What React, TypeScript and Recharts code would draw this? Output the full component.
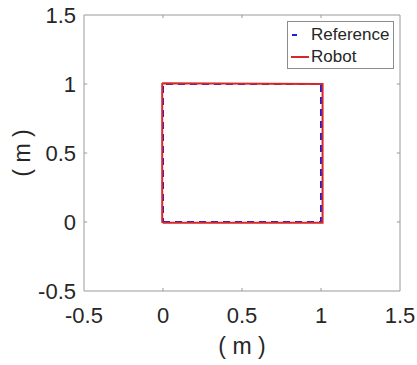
import React from 'react';
import { LineChart, Line, XAxis, YAxis, ReferenceArea, ReferenceLine, Legend } from 'recharts';

// trajectory data (metres)
const refX = [0, 1, 1, 0, 0];
const refY = [0, 0, 1, 1, 0];
const robotX = [0, 1.01, 1.01, 0.0, -0.005, -0.005, 0];
const robotY = [-0.005, -0.005, 1, 1.005, 1.0, 0, -0.005];
const xTicks = [-0.5, 0, 0.5, 1, 1.5];
const yTicks = [-0.5, 0, 0.5, 1, 1.5];

const refData = refX.map((x, i) => ({ x, y: refY[i] }));
const robotData = robotX.map((x, i) => ({ x, y: robotY[i] }));

const FONT = '"Liberation Sans", Arial, sans-serif';
const TEXT = '#262626';
const AXIS = '#9a9a9a';
const TICK_LEN_X = 0.02;
const TICK_LEN_Y = 0.022;

const LegendBox = () => (
  <div style={{ width: 107, height: 48, border: '1px solid #8c8c8c', background: '#fff', boxSizing: 'border-box', fontFamily: FONT, fontSize: 17, color: TEXT, position: 'relative' }}>
    <svg width={24} height={46} style={{ position: 'absolute', left: 0, top: 0 }}>
      <line x1={4} x2={9} y1={13} y2={13} stroke="#1f1fd6" strokeWidth={2} />
      <line x1={3} x2={21} y1={35} y2={35} stroke="#d62828" strokeWidth={2} />
    </svg>
    <div style={{ position: 'absolute', left: 23, top: 3, lineHeight: '20px' }}>Reference</div>
    <div style={{ position: 'absolute', left: 23, top: 25, lineHeight: '20px' }}>Robot</div>
  </div>
);

export default function App() {
  return (
    <div style={{ position: 'absolute', left: 0, top: 0, background: '#fff' }}>
      <LineChart width={417} height={365} margin={{ top: 15, right: 17, left: 0, bottom: 0 }}>
        <XAxis
          type="number"
          dataKey="x"
          domain={[-0.5, 1.5]}
          ticks={xTicks}
          allowDataOverflow
          height={74}
          tickSize={0}
          tickMargin={16}
          tickLine={false}
          axisLine={false}
          tick={{ fontSize: 22, fill: TEXT, fontFamily: FONT }}
          label={{
            content: (p: any) => {
              const vb = p.viewBox;
              return (
                <text x={vb.x + vb.width / 2} y={vb.y + 55} textAnchor="middle" dominantBaseline="central" fontSize={23} fill={TEXT} fontFamily={FONT}>
                  ( m )
                </text>
              );
            },
          }}
        />
        <YAxis
          type="number"
          dataKey="y"
          domain={[-0.5, 1.5]}
          ticks={yTicks}
          allowDataOverflow
          width={84}
          tickSize={0}
          tickMargin={8}
          tickLine={false}
          axisLine={false}
          tick={{ fontSize: 22, fill: TEXT, fontFamily: FONT }}
          label={{
            content: (p: any) => {
              const vb = p.viewBox;
              const cx = vb.x + 22;
              const cy = vb.y + vb.height / 2;
              return (
                <text x={cx} y={cy} transform={`rotate(-90 ${cx} ${cy})`} textAnchor="middle" dominantBaseline="central" fontSize={23} fill={TEXT} fontFamily={FONT}>
                  ( m )
                </text>
              );
            },
          }}
        />
        <ReferenceArea x1={-0.5} x2={1.5} y1={-0.5} y2={1.5} fill="none" stroke={AXIS} strokeWidth={1} />
        {xTicks.slice(1, -1).map((t) => (
          <ReferenceLine key={`xb${t}`} segment={[{ x: t, y: -0.5 }, { x: t, y: -0.5 + TICK_LEN_Y }]} stroke={AXIS} />
        ))}
        {xTicks.slice(1, -1).map((t) => (
          <ReferenceLine key={`xt${t}`} segment={[{ x: t, y: 1.5 }, { x: t, y: 1.5 - TICK_LEN_Y }]} stroke={AXIS} />
        ))}
        {yTicks.slice(1, -1).map((t) => (
          <ReferenceLine key={`yl${t}`} segment={[{ x: -0.5, y: t }, { x: -0.5 + TICK_LEN_X, y: t }]} stroke={AXIS} />
        ))}
        {yTicks.slice(1, -1).map((t) => (
          <ReferenceLine key={`yr${t}`} segment={[{ x: 1.5, y: t }, { x: 1.5 - TICK_LEN_X, y: t }]} stroke={AXIS} />
        ))}
        <Line data={refData} dataKey="y" type="linear" stroke="#1f1fd6" strokeWidth={2} strokeDasharray="7 5" dot={false} isAnimationActive={false} name="Reference" />
        <Line data={robotData} dataKey="y" type="linear" stroke="#d62828" strokeWidth={2} dot={false} isAnimationActive={false} name="Robot" />
        <Legend
          layout="horizontal"
          verticalAlign="middle"
          align="center"
          content={() => <LegendBox />}
          wrapperStyle={{ left: 287, top: 21, width: 107, height: 48 }}
        />
      </LineChart>
    </div>
  );
}
